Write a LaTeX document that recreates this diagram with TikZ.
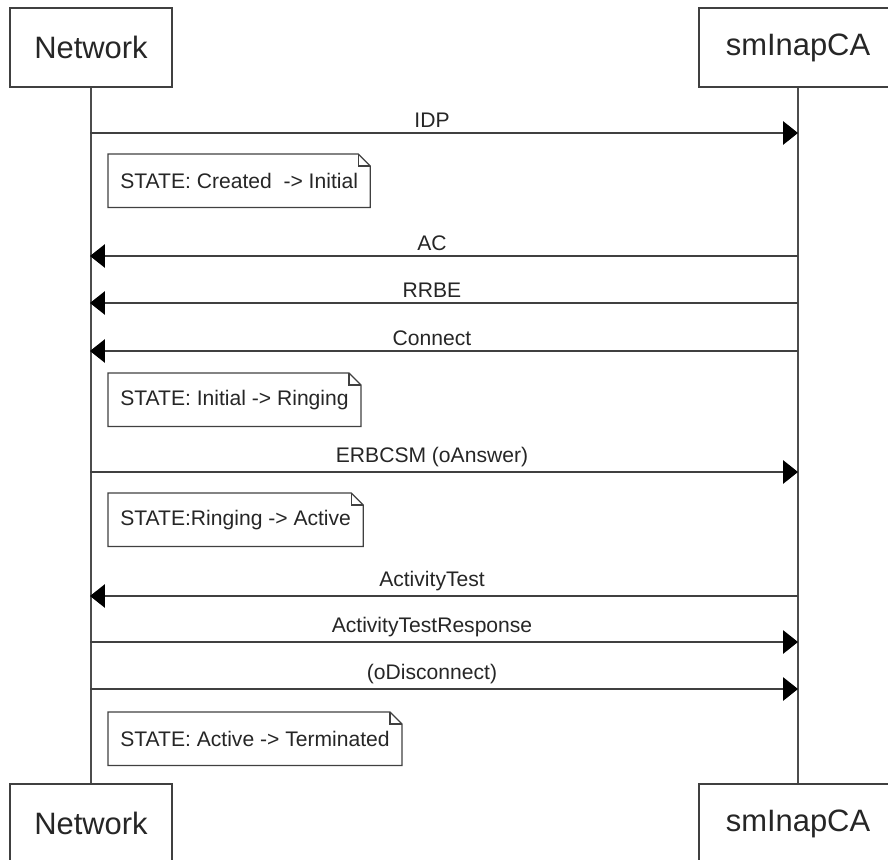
\documentclass[tikz,border=0pt]{standalone}
\usepackage{fontspec}
\setmainfont{Liberation Sans}
\usetikzlibrary{arrows.meta}
\tikzset{
  actor/.style={draw=black!75, line width=1pt, fill=white, minimum height=1.975cm, inner sep=0pt, text=black!85, font=\fontsize{22}{26}\selectfont},
  lifeline/.style={draw=black!70, line width=1pt},
  msg/.style={-{Triangle[length=0.37cm, width=0.58cm, color=black]}, line width=1pt, draw=black!75},
  msglabel/.style={font=\fontsize{15}{18}\selectfont, text=black!85, inner sep=3.5pt, xshift=-0.3cm},
  note/.style={anchor=north west, minimum height=1.325cm, inner xsep=0.3cm, inner ysep=0pt, font=\fontsize{15}{18}\selectfont, text=black!85}
}

\begin{document}
\begin{tikzpicture}
  \useasboundingbox (0,0) rectangle (22.2,-21.475);

  % actors
  \node[actor, minimum width=4.05cm] (nettop) at (2.275,-1.1875) {Network};
  \node[actor, minimum width=4.95cm] (smtop) at (19.95,-1.1875) {smInapCA};
  \node[actor, minimum width=4.05cm] (netbot) at (2.275,-20.5875) {Network};
  \node[actor, minimum width=4.95cm] (smbot) at (19.95,-20.5875) {smInapCA};

  \draw[lifeline] (nettop.south) -- (netbot.north);
  \draw[lifeline] (smtop.south) -- (smbot.north);

  % message rows on the lifelines
  \foreach \i/\y in {1/3.325, 2/6.4, 3/7.575, 4/8.775, 5/11.8, 6/14.9, 7/16.05, 8/17.225}{
    \coordinate (n\i) at (2.25,-\y);
    \coordinate (s\i) at (19.95,-\y);
  }

  \draw[msg] (n1) -- node[msglabel, above] {IDP} (s1);
  \draw[msg] (s2) -- node[msglabel, above] {AC} (n2);
  \draw[msg] (s3) -- node[msglabel, above] {RRBE} (n3);
  \draw[msg] (s4) -- node[msglabel, above] {Connect} (n4);
  \draw[msg] (n5) -- node[msglabel, above] {ERBCSM (oAnswer)} (s5);
  \draw[msg] (s6) -- node[msglabel, above] {ActivityTest} (n6);
  \draw[msg] (n7) -- node[msglabel, above] {ActivityTestResponse} (s7);
  \draw[msg] (n8) -- node[msglabel, above] {(oDisconnect)} (s8);

  % state notes
  \node[note] (st1) at (2.7,-3.85) {STATE: Created~ -> Initial};
  \node[note] (st2) at (2.7,-9.325) {STATE: Initial -> Ringing};
  \node[note] (st3) at (2.7,-12.325) {STATE:Ringing -> Active};
  \node[note] (st4) at (2.7,-17.8) {STATE: Active -> Terminated};

  \foreach \s in {st1,st2,st3,st4}{
    \draw[black!75, line width=0.9pt]
      (\s.north west) -- ([xshift=-0.3cm]\s.north east) -- ([yshift=-0.3cm]\s.north east)
      -- (\s.south east) -- (\s.south west) -- cycle;
    \draw[black!75, line width=0.9pt]
      ([xshift=-0.3cm]\s.north east) -- ([xshift=-0.3cm, yshift=-0.3cm]\s.north east)
      -- ([yshift=-0.3cm]\s.north east);
  }
\end{tikzpicture}
\end{document}
